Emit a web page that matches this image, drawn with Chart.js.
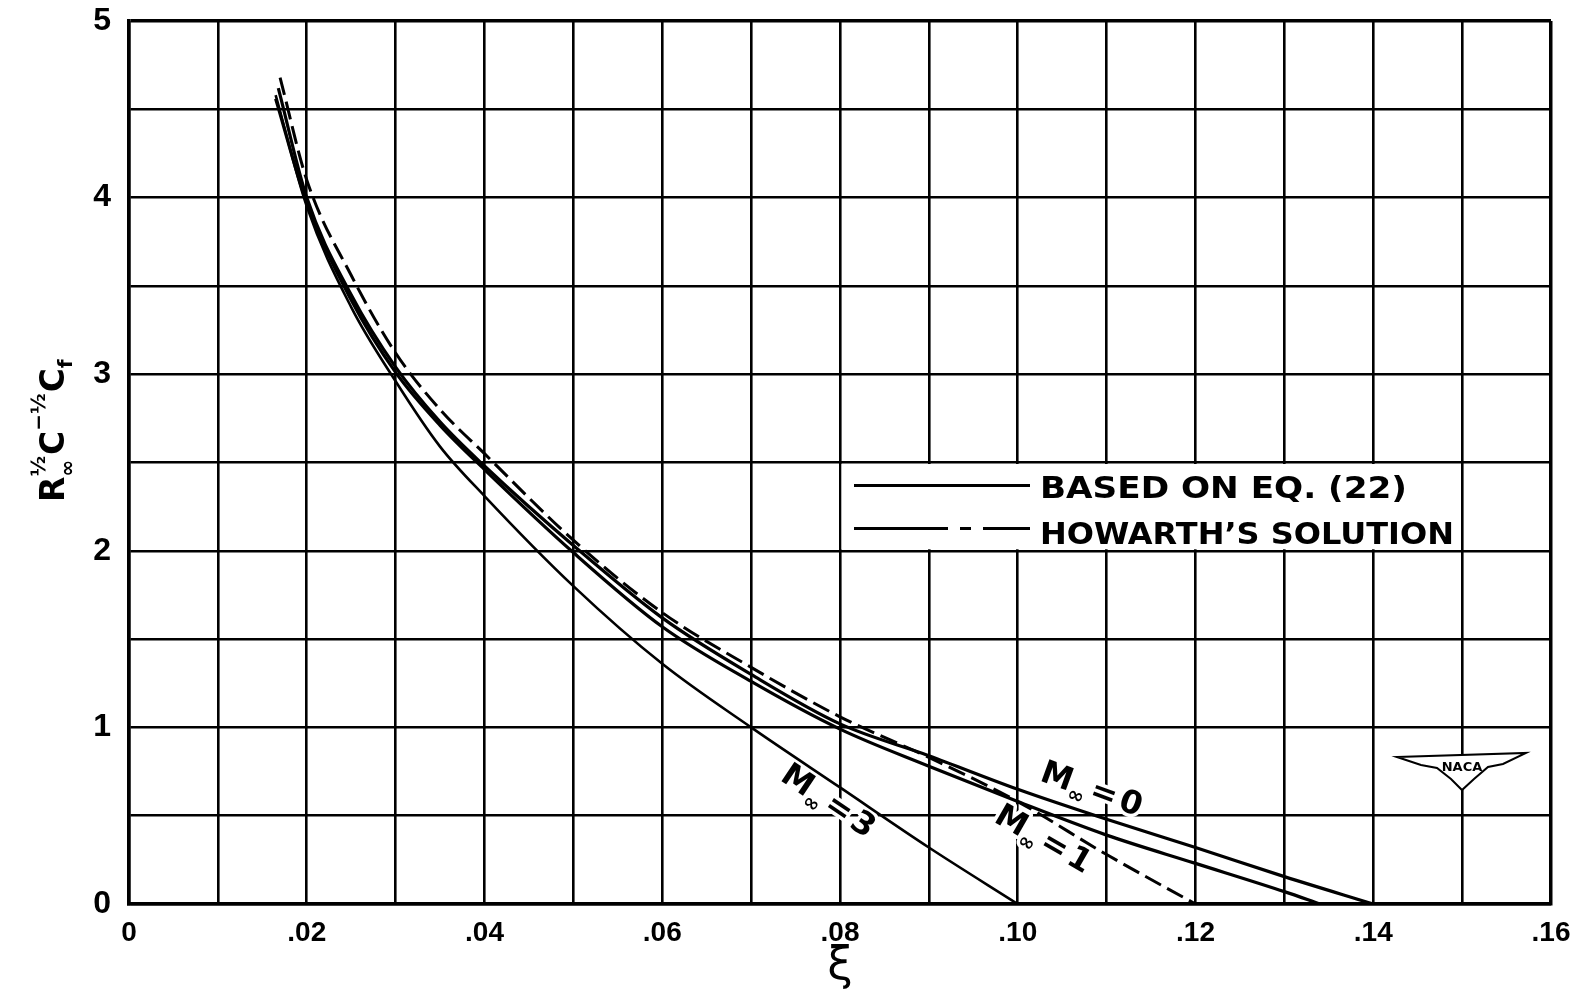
<!DOCTYPE html>
<html>
<head>
<meta charset="utf-8">
<script src="https://cdn.jsdelivr.net/npm/chart.js@4.4.0/dist/chart.umd.min.js"></script>
<style>
  html, body { margin: 0; padding: 0; background: #fff; }
</style>
</head>
<body>
<canvas id="chart" width="1576" height="997"></canvas>
<script>
// values: xi against R^1/2 C^-1/2 cf
const xiM0 = [0.0168, 0.020, 0.025, 0.030, 0.035, 0.040, 0.050, 0.060, 0.070, 0.080, 0.090, 0.100, 0.110, 0.120, 0.130, 0.140];
const cfM0 = [4.62, 4.00, 3.45, 3.04, 2.73, 2.48, 2.03, 1.62, 1.30, 1.02, 0.84, 0.65, 0.48, 0.32, 0.155, 0];

const xiM1 = [0.0165, 0.020, 0.025, 0.030, 0.035, 0.040, 0.050, 0.060, 0.070, 0.080, 0.090, 0.100, 0.110, 0.120, 0.130, 0.134];
const cfM1 = [4.56, 3.97, 3.42, 3.01, 2.71, 2.46, 1.99, 1.57, 1.26, 0.99, 0.78, 0.58, 0.39, 0.23, 0.07, 0];

const xiM3 = [0.0165, 0.020, 0.025, 0.030, 0.035, 0.040, 0.050, 0.060, 0.070, 0.080, 0.090, 0.100];
const cfM3 = [4.58, 3.95, 3.38, 2.96, 2.59, 2.31, 1.80, 1.36, 1.00, 0.66, 0.32, 0];

const xiHowarth = [0.017, 0.020, 0.025, 0.030, 0.035, 0.040, 0.050, 0.060, 0.070, 0.080, 0.090, 0.100, 0.110, 0.120];
const cfHowarth = [4.68, 4.10, 3.56, 3.12, 2.80, 2.55, 2.06, 1.65, 1.34, 1.06, 0.83, 0.58, 0.28, 0];

const xTickLabels = ['0', '.02', '.04', '.06', '.08', '.10', '.12', '.14', '.16'];
const yTickLabels = ['0', '1', '2', '3', '4', '5'];
const legendLabels = ['BASED ON EQ. (22)', 'HOWARTH\u2019S SOLUTION'];

function pts(xs, ys) {
  return xs.map((x, i) => ({ x: x, y: ys[i] }));
}

// draw text squeezed/stretched to a given width
function fitText(ctx, text, x, y, w) {
  const m = ctx.measureText(text).width;
  ctx.save();
  ctx.translate(x, y);
  ctx.scale(w / m, 1);
  ctx.fillText(text, 0, 0);
  ctx.restore();
}

function machLabel(ctx, cx, cy, deg, digit) {
  ctx.save();
  ctx.translate(cx, cy);
  ctx.rotate(deg * Math.PI / 180);
  const big = 'bold 32px "DejaVu Sans"';
  const small = 'bold 20px "DejaVu Sans"';
  ctx.font = big; const wM = ctx.measureText('M').width;
  ctx.font = small; const wInf = ctx.measureText('\u221e').width;
  ctx.font = big; const wEq = ctx.measureText('=').width; const wD = ctx.measureText(digit).width;
  const total = wM + wInf + 4 + wEq + 4 + wD;
  let x = -total / 2;
  ctx.textBaseline = 'alphabetic';
  ctx.textAlign = 'left';
  const parts = [[big, 'M', 0, wM], [small, '\u221e', 8, wInf + 4], [big, '=', 0, wEq + 4], [big, digit, 0, wD]];
  // white halo to break the grid under the lettering
  ctx.strokeStyle = '#fff';
  ctx.lineWidth = 7;
  ctx.lineJoin = 'round';
  let hx = x;
  parts.forEach(p => { ctx.font = p[0]; ctx.strokeText(p[1], hx, 11 + p[2]); hx += p[3]; });
  ctx.fillStyle = '#000';
  parts.forEach(p => { ctx.font = p[0]; ctx.fillText(p[1], x, 11 + p[2]); x += p[3]; });
  ctx.restore();
}

const decor = {
  id: 'decor',
  beforeDatasetsDraw(chart) {
    const ctx = chart.ctx;
    const sx = chart.scales.x, sy = chart.scales.y;
    // legend panel: wipe the grid cell block between .08-.15 and 2-2.5
    const l = sx.getPixelForValue(0.08), r = sx.getPixelForValue(0.15);
    const t = sy.getPixelForValue(2.5), b = sy.getPixelForValue(2);
    ctx.save();
    ctx.fillStyle = '#fff';
    ctx.fillRect(l + 1.5, t + 1.5, r - l - 3, b - t - 3);

    // legend samples
    ctx.strokeStyle = '#000';
    ctx.lineWidth = 3.2;
    ctx.beginPath();
    ctx.moveTo(l + 14, t + 23); ctx.lineTo(l + 190, t + 23);
    ctx.stroke();
    ctx.beginPath();
    ctx.moveTo(l + 14, t + 66); ctx.lineTo(l + 108, t + 66);
    ctx.moveTo(l + 120, t + 66); ctx.lineTo(l + 131, t + 66);
    ctx.moveTo(l + 143, t + 66); ctx.lineTo(l + 190, t + 66);
    ctx.stroke();

    ctx.fillStyle = '#000';
    ctx.textBaseline = 'alphabetic';
    ctx.font = 'bold 30px "DejaVu Sans"';
    fitText(ctx, legendLabels[0], l + 200, t + 35, 367);
    ctx.font = '600 30px "DejaVu Sans"';
    fitText(ctx, legendLabels[1], l + 200, t + 81, 414);

    // Mach number labels
    machLabel(ctx, 1092, 788, 20, '0');
    machLabel(ctx, 1044, 838, 30, '1');
    machLabel(ctx, 829, 800, 34, '3');

    // NACA mark
    ctx.beginPath();
    ctx.moveTo(1397, 757); ctx.lineTo(1526, 753);
    ctx.lineTo(1503, 764); ctx.lineTo(1488, 767); ctx.lineTo(1474, 779);
    ctx.lineTo(1462, 790); ctx.lineTo(1451, 779); ctx.lineTo(1437, 768);
    ctx.lineTo(1421, 765); ctx.closePath();
    ctx.fillStyle = '#fff'; ctx.fill();
    ctx.lineWidth = 2; ctx.strokeStyle = '#000'; ctx.stroke();
    ctx.fillStyle = '#000';
    ctx.font = 'bold 13px "DejaVu Sans"';
    ctx.textAlign = 'center';
    ctx.fillText('NACA', 1462, 771);
    ctx.restore();
  },
  afterDraw(chart) {
    // y axis title: R∞^½ C^-½ Cf, rotated
    const ctx = chart.ctx;
    ctx.save();
    ctx.translate(64, 502);
    ctx.rotate(-Math.PI / 2);
    ctx.fillStyle = '#000';
    ctx.textBaseline = 'alphabetic';
    const big = 'bold 33px "DejaVu Sans"';
    const sm = 'bold 20px "DejaVu Sans"';
    let x = 0;
    ctx.font = big; ctx.fillText('R', x, 0); x += ctx.measureText('R').width;
    ctx.font = sm; ctx.fillText('\u221e', x, 10); ctx.fillText('\u00bd', x, -19);
    x += ctx.measureText('\u00bd').width + 1;
    ctx.font = big; ctx.fillText('C', x, 0); x += ctx.measureText('C').width;
    ctx.font = sm; ctx.fillText('\u2212\u00bd', x, -19); x += ctx.measureText('\u2212\u00bd').width + 1;
    ctx.font = big; ctx.fillText('C', x, 0); x += ctx.measureText('C').width;
    ctx.font = sm; ctx.fillText('f', x, 8);
    ctx.restore();
  }
};

const curve = (data, width, dash) => ({
  data: data,
  borderColor: '#000',
  borderWidth: width,
  borderDash: dash || [],
  pointRadius: 0,
  fill: false,
  cubicInterpolationMode: 'monotone'
});

new Chart(document.getElementById('chart').getContext('2d'), {
  type: 'line',
  data: {
    datasets: [
      curve(pts(xiM0, cfM0), 3.2),
      curve(pts(xiM1, cfM1), 3.2),
      curve(pts(xiM3, cfM3), 2.6),
      curve(pts(xiHowarth, cfHowarth), 3, [18, 7])
    ]
  },
  options: {
    responsive: false,
    animation: false,
    layout: { padding: { top: 21, right: 25, left: 0, bottom: 0 } },
    plugins: { legend: { display: false }, tooltip: { enabled: false } },
    scales: {
      x: {
        type: 'linear',
        min: 0, max: 0.16,
        afterFit(scale) {
          scale.height = 93;
          scale.paddingLeft = 0; scale.paddingRight = 0;
        },
        grid: { color: '#000', lineWidth: c => (c.index === 0 || c.index === 16) ? 3.5 : 2.6, drawTicks: false },
        border: { color: '#000', width: 3.5 },
        ticks: {
          stepSize: 0.01,
          autoSkip: false,
          maxRotation: 0,
          padding: 12,
          color: '#000',
          font: { family: '"Liberation Sans"', weight: 'bold', size: 28 },
          callback: (v, i) => i % 2 === 0 ? xTickLabels[i / 2] : ''
        },
        title: {
          display: true,
          text: '\u03be',
          color: '#000',
          font: { family: '"DejaVu Sans"', size: 46 },
          padding: { top: 0, bottom: 2 }
        }
      },
      y: {
        min: 0, max: 5,
        afterFit(scale) {
          scale.width = 129;
          scale.paddingTop = 0; scale.paddingBottom = 0;
        },
        grid: { color: '#000', lineWidth: c => (c.index === 0 || c.index === 10) ? 3.5 : 2.6, drawTicks: false },
        border: { color: '#000', width: 3.5 },
        ticks: {
          stepSize: 0.5,
          autoSkip: false,
          padding: 18,
          color: '#000',
          font: { family: '"Liberation Sans"', weight: 'bold', size: 32 },
          callback: (v, i) => i % 2 === 0 ? yTickLabels[i / 2] : ''
        }
      }
    }
  },
  plugins: [decor]
});
</script>
</body>
</html>
